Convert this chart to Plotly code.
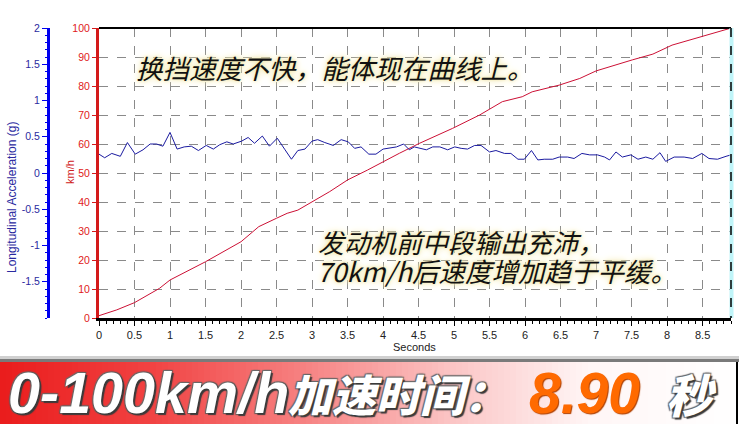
import plotly.graph_objects as go

W, H = 739, 424

# ---------------- data ----------------
speed_t = [0, 0.25, 0.5, 0.85, 1.0, 1.5, 2.0, 2.25, 2.5, 2.65, 2.8, 3.0, 3.25, 3.5, 3.78,
           4.23, 4.51, 4.98, 5.36, 5.68, 5.96, 6.1, 6.48, 6.77, 7.0, 7.51, 7.8, 8.07, 8.45, 8.89]
speed_kmh = [0.8, 2.8, 5.3, 10.2, 13.1, 19.4, 26.3, 31.5, 34.4, 36.1, 37.2, 40.1, 43.6, 47.6, 51.0,
             56.8, 60.2, 65.4, 70.0, 74.6, 76.3, 78.0, 80.3, 82.6, 85.2, 89.0, 91.0, 94.1, 96.7, 99.9]

acc_t = [0.0, 0.08, 0.18, 0.30, 0.40, 0.51, 0.62, 0.72, 0.81, 0.90, 1.00, 1.10, 1.20, 1.30, 1.40,
         1.51, 1.61, 1.70, 1.80, 1.89, 2.01, 2.10, 2.19, 2.30, 2.40, 2.51, 2.62, 2.71, 2.80, 2.90,
         3.00, 3.08, 3.18, 3.30, 3.41, 3.51, 3.60, 3.69, 3.80, 3.90, 4.00, 4.09, 4.19, 4.29, 4.37,
         4.44, 4.51, 4.61, 4.70, 4.80, 4.91, 5.01, 5.10, 5.19, 5.29, 5.38, 5.50, 5.59, 5.71, 5.80,
         5.90, 5.99, 6.09, 6.18, 6.27, 6.39, 6.48, 6.60, 6.69, 6.80, 6.91, 7.02, 7.12, 7.19, 7.28,
         7.37, 7.49, 7.59, 7.70, 7.80, 7.90, 7.98, 8.10, 8.24, 8.36, 8.49, 8.59, 8.71, 8.83, 8.90]
acc_g = [0.26, 0.21, 0.27, 0.23, 0.42, 0.26, 0.32, 0.40, 0.40, 0.37, 0.56, 0.33, 0.36, 0.37, 0.31,
         0.38, 0.33, 0.39, 0.43, 0.40, 0.44, 0.49, 0.41, 0.51, 0.37, 0.48, 0.32, 0.19, 0.31, 0.33,
         0.44, 0.46, 0.42, 0.38, 0.46, 0.43, 0.34, 0.36, 0.26, 0.26, 0.33, 0.34, 0.36, 0.40, 0.32,
         0.36, 0.34, 0.32, 0.36, 0.36, 0.32, 0.36, 0.34, 0.33, 0.38, 0.38, 0.29, 0.31, 0.27, 0.27,
         0.19, 0.19, 0.31, 0.18, 0.19, 0.19, 0.22, 0.22, 0.20, 0.27, 0.25, 0.25, 0.22, 0.18, 0.29,
         0.22, 0.25, 0.19, 0.22, 0.19, 0.28, 0.16, 0.22, 0.22, 0.20, 0.27, 0.20, 0.19, 0.23, 0.25]

x_ticks = [0, 0.5, 1, 1.5, 2, 2.5, 3, 3.5, 4, 4.5, 5, 5.5, 6, 6.5, 7, 7.5, 8, 8.5]
x_labels = ["0", "0.5", "1", "1.5", "2", "2.5", "3", "3.5", "4", "4.5", "5", "5.5", "6", "6.5", "7", "7.5", "8", "8.5"]
kmh_ticks = [0, 10, 20, 30, 40, 50, 60, 70, 80, 90, 100]
g_ticks = [2, 1.5, 1, 0.5, 0, -0.5, -1, -1.5]
g_labels = ["2", "1.5", "1", "0.5", "0", "-0.5", "-1", "-1.5"]

note1 = "换挡速度不快，能体现在曲线上。"
note2_line1 = "发动机前中段输出充沛，"
note2_line2 = "70km/h后速度增加趋于平缓。"
banner_a = "0-100km/h"
banner_b = "加速时间："
banner_num = "8.90"
banner_unit = "秒"


def px(x):
    return x / W


def py(y):
    return 1 - y / H


fig = go.Figure()
fig.add_trace(go.Scatter(x=acc_t, y=acc_g, yaxis="y2", mode="lines",
                         line=dict(color="#1a1aa0", width=1), showlegend=False))
fig.add_trace(go.Scatter(x=speed_t, y=speed_kmh, mode="lines",
                         line=dict(color="#cc1035", width=1), showlegend=False))

shapes = []
# banner gradient
stops = [(0, (234, 28, 28)), (150, (241, 66, 66)), (300, (246, 128, 128)),
         (450, (251, 196, 196)), (590, (255, 246, 246)), (739, (255, 255, 255))]


def col(x):
    for (x0, c0), (x1, c1) in zip(stops[:-1], stops[1:]):
        if x0 <= x <= x1:
            f = (x - x0) / (x1 - x0)
            return "rgb(%d,%d,%d)" % tuple(round(a + (b - a) * f) for a, b in zip(c0, c1))
    return "rgb(255,255,255)"


step = 6
for x0 in range(0, W, step):
    shapes.append(dict(type="rect", xref="paper", yref="paper", x0=px(x0), x1=px(x0 + step + 0.5),
                       y0=py(424), y1=py(362), fillcolor=col(x0 + step / 2), line=dict(width=0), layer="below"))
shapes.append(dict(type="rect", xref="paper", yref="paper", x0=0, x1=1, y0=py(359), y1=py(356),
                   fillcolor="#d0d0d0", line=dict(width=0), layer="below"))
shapes.append(dict(type="rect", xref="paper", yref="paper", x0=0, x1=1, y0=py(362), y1=py(359),
                   fillcolor="#7a7a7a", line=dict(width=0), layer="below"))
shapes.append(dict(type="line", xref="paper", yref="paper", x0=px(737), x1=px(737), y0=py(424), y1=py(362),
                   line=dict(color="#000", width=2)))
# plot frame top and right
shapes.append(dict(type="line", xref="paper", yref="paper", x0=px(99), x1=px(731), y0=py(28), y1=py(28),
                   line=dict(color="#000", width=2)))
shapes.append(dict(type="line", xref="paper", yref="paper", x0=px(731.5), x1=px(731.5), y0=py(28), y1=py(318),
                   line=dict(color="#bff4f8", width=4)))
shapes.append(dict(type="line", xref="paper", yref="paper", x0=px(731), x1=px(731), y0=py(28), y1=py(318),
                   line=dict(color="#000", width=1.5, dash="dash")))

glow = "0px 0px 3px #efe4a0, 0px 0px 6px #f3eab0, 0px 0px 10px #f7f0c8"
ann = []
ann.append(dict(x=px(134), y=py(68), xref="paper", yref="paper", xanchor="left", yanchor="middle",
                text=note1, showarrow=False,
                font=dict(family="Noto Sans CJK SC", size=26.5, color="#111", style="italic", shadow=glow)))
ann.append(dict(x=px(316), y=py(241), xref="paper", yref="paper", xanchor="left", yanchor="middle",
                text=note2_line1, showarrow=False,
                font=dict(family="Noto Sans CJK SC", size=26, color="#111", style="italic", shadow=glow)))
ann.append(dict(x=px(315), y=py(270), xref="paper", yref="paper", xanchor="left", yanchor="middle",
                text=note2_line2, showarrow=False,
                font=dict(family="Noto Sans CJK SC", size=26.5, color="#111", style="italic", shadow=glow)))
ann.append(dict(x=px(414), y=py(347), xref="paper", yref="paper", xanchor="center", yanchor="middle",
                text="Seconds", showarrow=False,
                font=dict(family="Liberation Sans", size=11, color="#222")))
ann.append(dict(x=px(70), y=py(172), xref="paper", yref="paper", xanchor="center", yanchor="middle",
                text="km/h", showarrow=False, textangle=-90,
                font=dict(family="Liberation Sans", size=11, color="#d02020")))
ann.append(dict(x=px(12), y=py(198), xref="paper", yref="paper", xanchor="center", yanchor="middle",
                text="Longitudinal Acceleration (g)", showarrow=False, textangle=-90,
                font=dict(family="Liberation Sans", size=12, color="#2a2aa0")))

bshadow = "2px 2px 1px #3a3a3a, -1px -1px 1px #6a6a6a, 1px -1px 1px #5a5a5a, -1px 1px 1px #5a5a5a"
ann.append(dict(x=px(6), y=py(393), xref="paper", yref="paper", xanchor="left", yanchor="middle",
                text=banner_a, showarrow=False,
                font=dict(family="Liberation Sans", size=57.5, color="#ffffff", weight="bold", style="italic",
                          shadow=bshadow)))
ann.append(dict(x=px(286), y=py(393), xref="paper", yref="paper", xanchor="left", yanchor="middle",
                text=banner_b, showarrow=False,
                font=dict(family="Noto Sans CJK SC", size=44, color="#ffffff", weight=900, style="italic",
                          shadow=bshadow)))
ann.append(dict(x=px(527), y=py(393), xref="paper", yref="paper", xanchor="left", yanchor="middle",
                text=banner_num, showarrow=False,
                font=dict(family="Liberation Sans", size=57, color="#ff6a00", weight="bold", style="italic",
                          shadow="1px 1px 1px #b04000")))
ann.append(dict(x=px(664), y=py(393), xref="paper", yref="paper", xanchor="left", yanchor="middle",
                text=banner_unit, showarrow=False,
                font=dict(family="Noto Sans CJK SC", size=46, color="#ffffff", weight=900, style="italic",
                          shadow=bshadow)))

fig.update_layout(
    width=W, height=H,
    margin=dict(l=0, r=0, t=0, b=0),
    paper_bgcolor="white", plot_bgcolor="white",
    showlegend=False,
    xaxis=dict(domain=[px(99), px(731)], range=[0, 8.9], tickvals=x_ticks, ticktext=x_labels,
               showgrid=True, gridcolor="#8a8a8a", griddash="dash", gridwidth=1,
               showline=True, linecolor="#000", linewidth=3, ticks="outside", ticklen=5, tickcolor="#000",
               minor=dict(dtick=0.1, ticks="outside", ticklen=3, tickcolor="#000", showgrid=False),
               tickfont=dict(family="Liberation Sans", size=11, color="#222"), zeroline=False,
               automargin=False, fixedrange=True),
    yaxis=dict(domain=[py(318), py(28)], range=[0, 100], tickvals=kmh_ticks,
               showgrid=True, gridcolor="#8a8a8a", griddash="dash", gridwidth=1,
               showline=True, linecolor="#d41a1a", linewidth=3, ticks="outside", ticklen=4, tickcolor="#d41a1a",
               tickfont=dict(family="Liberation Sans", size=10.5, color="#e02020"), zeroline=False,
               automargin=False),
    yaxis2=dict(overlaying="y", anchor="free", position=px(48), side="left", range=[-2, 2],
                tickvals=g_ticks, ticktext=g_labels, showgrid=False, zeroline=False,
                showline=True, linecolor="#0000ee", linewidth=3, ticks="outside", ticklen=5, tickcolor="#0000ee",
                minor=dict(dtick=0.1, ticks="outside", ticklen=2, tickcolor="#0000ee"),
                tickfont=dict(family="Liberation Sans", size=10.5, color="#2a2aa0"), automargin=False),
    shapes=shapes,
    annotations=ann,
)

fig.write_html("out.html", config={"displayModeBar": False},
               post_script="document.body.style.margin='0';document.body.style.overflow='hidden';")
